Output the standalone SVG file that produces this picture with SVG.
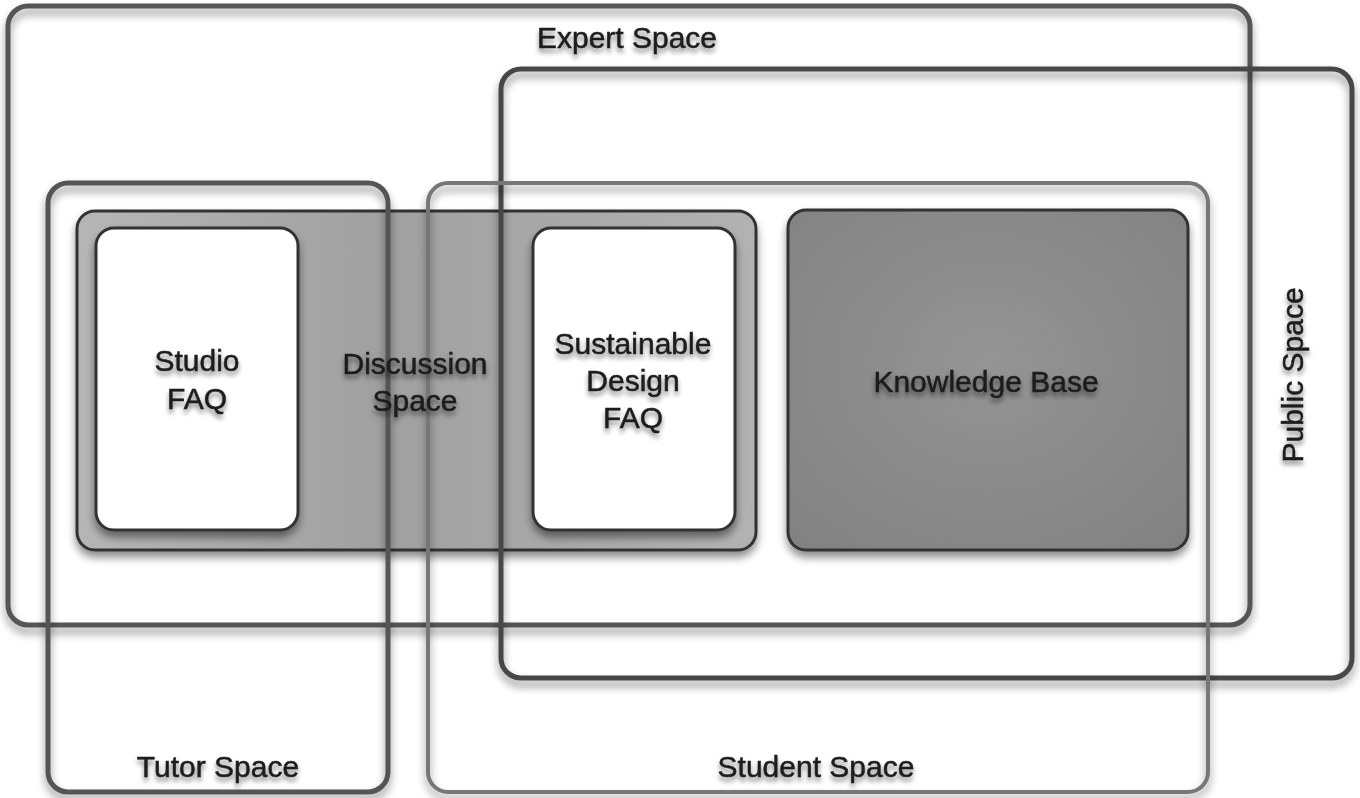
<svg xmlns="http://www.w3.org/2000/svg" width="1360" height="798" viewBox="0 0 1360 798">
<defs>
<filter id="sh" x="-10%" y="-10%" width="120%" height="125%">
<feGaussianBlur in="SourceAlpha" stdDeviation="4"/>
<feOffset dx="0" dy="6" result="b"/>
<feComponentTransfer><feFuncA type="linear" slope="0.45"/></feComponentTransfer>
<feMerge><feMergeNode/><feMergeNode in="SourceGraphic"/></feMerge>
</filter>
<filter id="tsh" x="-20%" y="-40%" width="140%" height="200%">
<feGaussianBlur in="SourceAlpha" stdDeviation="2.5"/>
<feOffset dx="0" dy="4"/>
<feComponentTransfer><feFuncA type="linear" slope="0.5"/></feComponentTransfer>
<feMerge><feMergeNode/><feMergeNode in="SourceGraphic"/></feMerge>
</filter>
<linearGradient id="disc" x1="0" y1="0" x2="1" y2="0">
<stop offset="0" stop-color="#b6b6b6"/>
<stop offset="0.45" stop-color="#a0a0a0"/>
<stop offset="1" stop-color="#b2b2b2"/>
</linearGradient>
<radialGradient id="kb" cx="0.5" cy="0.45" r="0.7">
<stop offset="0" stop-color="#949494"/>
<stop offset="1" stop-color="#828282"/>
</radialGradient>
</defs>
<style>
.frame{fill:none;stroke-linejoin:round}
.lbl{font-family:"Liberation Sans",Arial,sans-serif;font-size:30px;fill:#1c1c1c;stroke:#1c1c1c;stroke-width:0.5;text-anchor:middle}
</style>
<rect width="1360" height="798" fill="#fff"/>
<g id="discussion-space" filter="url(#sh)">
<rect x="77" y="211" width="679" height="339" rx="18" fill="url(#disc)" stroke="#333" stroke-width="3"/>
</g>
<g id="studio-faq" filter="url(#sh)">
<rect x="96" y="228" width="202" height="302" rx="18" fill="#fff" stroke="#333" stroke-width="3"/>
</g>
<g id="sustainable-design-faq" filter="url(#sh)">
<rect x="533" y="228" width="202" height="302" rx="18" fill="#fff" stroke="#333" stroke-width="3"/>
</g>
<g id="knowledge-base" filter="url(#sh)">
<rect x="788" y="210" width="400" height="340" rx="18" fill="url(#kb)" stroke="#333" stroke-width="3"/>
</g>
<g id="expert-space" filter="url(#sh)">
<rect class="frame" x="8" y="6" width="1242" height="619" rx="20" stroke="#555" stroke-width="5"/>
</g>
<g id="public-space" filter="url(#sh)">
<rect class="frame" x="501" y="69" width="851" height="609" rx="20" stroke="#474747" stroke-width="5"/>
</g>
<g id="tutor-space" filter="url(#sh)">
<rect class="frame" x="48" y="183" width="340" height="609" rx="20" stroke="#555" stroke-width="5"/>
</g>
<g id="student-space" filter="url(#sh)">
<rect class="frame" x="428" y="183" width="780" height="609" rx="20" stroke="#777" stroke-width="4"/>
</g>
<g id="labels" filter="url(#tsh)">
<text class="lbl" x="627" y="48">Expert Space</text>
<text class="lbl" transform="translate(1303 375) rotate(-90)">Public Space</text>
<text class="lbl" x="218" y="777">Tutor Space</text>
<text class="lbl" x="816" y="777">Student Space</text>
<text class="lbl" x="197" y="371">Studio</text>
<text class="lbl" x="197" y="409">FAQ</text>
<text class="lbl" x="415" y="374">Discussion</text>
<text class="lbl" x="415" y="411">Space</text>
<text class="lbl" x="633" y="354">Sustainable</text>
<text class="lbl" x="633" y="391">Design</text>
<text class="lbl" x="633" y="428">FAQ</text>
<text class="lbl" x="986" y="392">Knowledge Base</text>
</g>
<g id="connectors"/>
</svg>
